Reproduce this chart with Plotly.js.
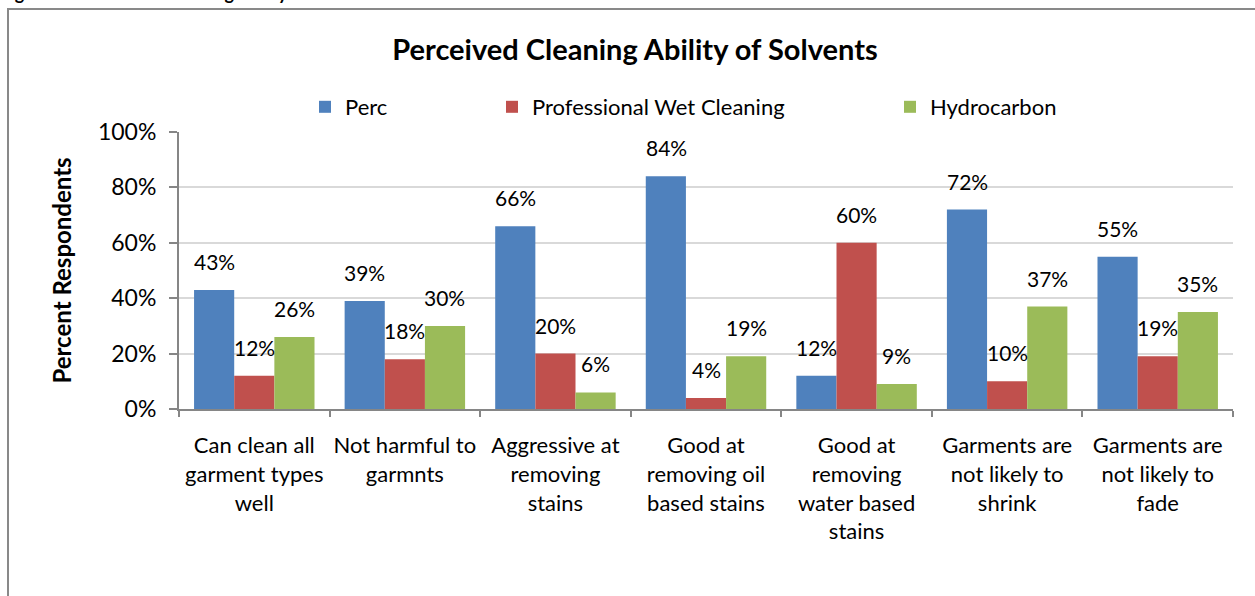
<!DOCTYPE html>
<html>
<head>
<meta charset="utf-8">
<script src="https://cdn.plot.ly/plotly-3.0.1.min.js"></script>
<style>
  html, body { margin: 0; padding: 0; background: #fff; }
  #chart { width: 1255px; height: 596px; }
</style>
</head>
<body>
<div id="chart"></div>
<script>
const categories = [
    "Can clean all<br>garment types<br>well",
    "Not harmful to<br>garmnts",
    "Aggressive at<br>removing<br>stains",
    "Good at<br>removing oil<br>based stains",
    "Good at<br>removing<br>water based<br>stains",
    "Garments are<br>not likely to<br>shrink",
    "Garments are<br>not likely to<br>fade"
];
const seriesNames = ["Perc", "Professional Wet Cleaning", "Hydrocarbon"];
const percValues = [43, 39, 66, 84, 12, 72, 55];
const wetValues = [12, 18, 20, 4, 60, 10, 19];
const hydroValues = [26, 30, 6, 19, 9, 37, 35];
const yTicks = [0, 20, 40, 60, 80, 100];

const colors = ['#4F81BD', '#C0504D', '#9BBB59'];
const allValues = [percValues, wetValues, hydroValues];
const font = 'Lato, "Open Sans", sans-serif';

// plot area in pixels
const plotL = 179, plotR = 1233, plotT = 132, plotB = 409;
const W = 1255, H = 596;
const pw = plotR - plotL, ph = plotB - plotT;
const px = (x) => (x - plotL) / pw;
const py = (y) => (plotB - y) / ph;

// each series gets its own legend so the spacing can follow the original
const legendIds = ['legend', 'legend2', 'legend3'];
const legendLeft = [305, 492, 890];

const traces = allValues.map((vals, i) => ({
    type: 'bar',
    name: seriesNames[i],
    x: categories,
    y: vals,
    legend: legendIds[i],
    marker: { color: colors[i] },
    hoverinfo: 'x+y'
}));

// value labels sit a little above each bar, like the original
const barW = 40;
const annotations = [];
allValues.forEach((vals, i) => {
    vals.forEach((v, j) => {
        annotations.push({
            x: categories[j], y: v, xref: 'x', yref: 'y',
            text: v + '%', showarrow: false,
            xshift: (i - 1) * barW, yshift: 14,
            yanchor: 'bottom',
            font: { family: font, size: 21, color: '#000' }
        });
    });
});

// figure caption, mostly cut off at the top
annotations.push({
    xref: 'paper', yref: 'paper',
    x: px(-2), y: py(6),
    xanchor: 'left', yanchor: 'bottom',
    text: '<b>Figure 17: Perceived cleaning ability of solvents</b>',
    showarrow: false,
    font: { family: font, size: 18, color: '#000' }
});

const layout = {
    width: W, height: H,
    margin: { l: plotL, r: W - plotR, t: plotT, b: H - plotB },
    paper_bgcolor: '#fff', plot_bgcolor: '#fff',
    font: { family: font, size: 22, color: '#000' },
    title: {
        text: '<b>Perceived Cleaning Ability of Solvents</b>',
        x: 635 / W, xref: 'container', xanchor: 'center',
        y: 1 - 50 / H, yref: 'container', yanchor: 'middle',
        font: { family: font, size: 29, color: '#000' }
    },
    barmode: 'group',
    bargap: 0.2,
    bargroupgap: 0,
    showlegend: true,
    xaxis: {
        type: 'category',
        showgrid: false,
        showline: true, linecolor: '#868686', linewidth: 2,
        ticks: 'outside', tickson: 'boundaries', ticklen: 6, tickcolor: '#868686', tickwidth: 2,
        tickangle: 0,
        ticklabelstandoff: 16,
        tickfont: { family: font, size: 22, color: '#000' },
        fixedrange: true
    },
    yaxis: {
        range: [0, 100],
        tickvals: yTicks,
        ticktext: yTicks.map(t => t + '%'),
        showgrid: true, gridcolor: '#D9D9D9', gridwidth: 2,
        showline: true, linecolor: '#868686', linewidth: 2,
        ticks: 'outside', ticklen: 8, tickcolor: '#868686', tickwidth: 2,
        ticklabelstandoff: 8,
        zeroline: false,
        tickfont: { family: font, size: 23, color: '#000' },
        title: {
            text: '<b>Percent Respondents</b>',
            standoff: 20,
            font: { family: font, size: 24, color: '#000' }
        },
        fixedrange: true
    },
    shapes: [{
        type: 'rect', xref: 'paper', yref: 'paper',
        x0: px(8), x1: px(W + 5),
        y0: py(H + 10), y1: py(9),
        line: { color: '#898989', width: 2 },
        fillcolor: 'rgba(0,0,0,0)',
        layer: 'below'
    }],
    annotations: annotations
};

legendIds.forEach((id, i) => {
    layout[id] = {
        orientation: 'h',
        x: px(legendLeft[i]), xanchor: 'left',
        y: py(107), yanchor: 'middle',
        font: { family: font, size: 22, color: '#000' },
        itemwidth: 30,
        bgcolor: 'rgba(0,0,0,0)'
    };
});

Plotly.newPlot('chart', traces, layout, { displayModeBar: false, staticPlot: true });
</script>
</body>
</html>
